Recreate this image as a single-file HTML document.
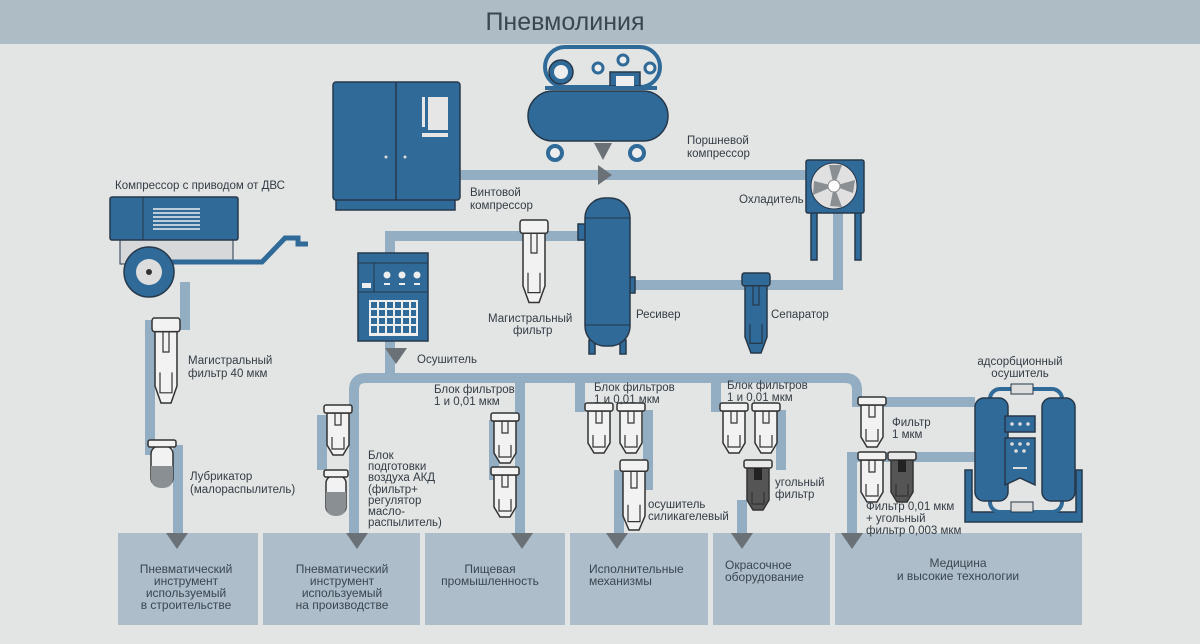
<!DOCTYPE html>
<html><head><meta charset="utf-8"><style>
html,body{margin:0;padding:0;background:#e3e4e4;}
svg{display:block;font-family:"Liberation Sans","Noto Sans CJK SC",sans-serif;}
.t{font-size:11.5px;fill:#333d45;}
.b{font-size:12px;fill:#3a4650;}
.p{fill:none;stroke:#93adc2;stroke-width:10;}
.bl{fill:#2f6a98;stroke:#27384a;stroke-width:1.5;}
</style></head><body>
<svg width="1200" height="644" viewBox="0 0 1200 644" xmlns="http://www.w3.org/2000/svg">
<defs>
<g id="f">
<path d="M-11 8 V40 L-5 50 H5 L11 40 V8 Z" fill="#f2f2f2" stroke="#333" stroke-width="1.5" vector-effect="non-scaling-stroke"/>
<rect x="-14" y="0" width="28" height="8" rx="2" fill="#f2f2f2" stroke="#333" stroke-width="1.5" vector-effect="non-scaling-stroke"/>
<path d="M-3 8 V20 H3 V8" fill="none" stroke="#333" stroke-width="1.2" vector-effect="non-scaling-stroke"/>
<path d="M-6 32 V44 H6 V32" fill="none" stroke="#333" stroke-width="1.2" vector-effect="non-scaling-stroke"/>
</g>
<g id="fd">
<path d="M-11 8 V40 L-5 50 H5 L11 40 V8 Z" fill="#555" stroke="#333" stroke-width="1.5"/>
<rect x="-14" y="0" width="28" height="8" rx="2" fill="#e8e8e8" stroke="#333" stroke-width="1.5"/>
<rect x="-4" y="8" width="8" height="12" fill="#222"/>
<path d="M-6 32 V44 H6 V32" fill="none" stroke="#333" stroke-width="1.2"/>
</g>
<g id="fb">
<path d="M-11 8 V40 L-5 50 H5 L11 40 V8 Z" fill="#2f6a98" stroke="#27384a" stroke-width="1.5" vector-effect="non-scaling-stroke"/>
<rect x="-14" y="0" width="28" height="8" rx="2" fill="#2f6a98" stroke="#27384a" stroke-width="1.5" vector-effect="non-scaling-stroke"/>
<path d="M-3 8 V20 H3 V8" fill="none" stroke="#27384a" stroke-width="1.2" vector-effect="non-scaling-stroke"/>
<path d="M-6 32 V44 H6 V32" fill="none" stroke="#27384a" stroke-width="1.2" vector-effect="non-scaling-stroke"/>
</g>
<path id="ar" d="M-11 0 H11 L0 16 Z" fill="#6a7177"/>
</defs>
<rect width="1200" height="644" fill="#e3e4e4"/>
<rect width="1200" height="44" fill="#aebcc6"/>
<text x="565" y="30" font-size="25" fill="#3a4650" text-anchor="middle">Пневмолиния</text>

<!-- bottom boxes -->
<g fill="#adbdca">
<rect x="118" y="533" width="140" height="92"/><rect x="263" y="533" width="157" height="92"/>
<rect x="425" y="533" width="140" height="92"/><rect x="570" y="533" width="138" height="92"/>
<rect x="713" y="533" width="117" height="92"/><rect x="835" y="533" width="247" height="92"/>
</g>

<!-- pipes -->
<path class="p" d="M185 282 V325 H150 V455"/>
<path class="p" d="M178 445 V535"/>
<path class="p" d="M460 175 H840"/>
<path class="p" d="M838 213 V285 H630"/>
<path class="p" d="M585 236 H390 V260"/>
<path class="p" d="M390 340 V380"/>
<path class="p" d="M354 535 V390 Q354 378 366 378 H845 Q857 378 857 390 V402 H975"/>
<path class="p" d="M975 457 H852 V535"/>
<path class="p" d="M322 415 V470"/>
<path class="p" d="M520 378 V535"/>
<path class="p" d="M494 420 V480"/>
<path class="p" d="M580 378 V412"/>
<path class="p" d="M648 410 V490"/>
<path class="p" d="M619 470 V535"/>
<path class="p" d="M716 378 V412"/>
<path class="p" d="M781 410 V470"/>
<path class="p" d="M742 500 V535"/>

<!-- arrows -->
<use href="#ar" x="177" y="533"/><use href="#ar" x="357" y="533"/><use href="#ar" x="522" y="533"/>
<use href="#ar" x="617" y="533"/><use href="#ar" x="742" y="533"/><use href="#ar" x="852" y="533"/>
<use href="#ar" x="396" y="348"/>

<!-- screw compressor -->
<rect class="bl" x="336" y="198" width="119" height="12"/>
<rect class="bl" x="333" y="82" width="127" height="118" rx="3"/>
<line x1="396" y1="82" x2="396" y2="200" stroke="#27384a" stroke-width="1.5"/>
<rect x="428" y="97" width="20" height="33" fill="#e6e6e6"/>
<rect x="422" y="97" width="3" height="30" fill="#e6e6e6"/>
<rect x="422" y="133" width="26" height="4" fill="#e6e6e6"/>
<circle cx="386" cy="157" r="1.5" fill="#ddd"/><circle cx="405" cy="157" r="1.5" fill="#ddd"/>

<!-- piston compressor -->
<rect x="545" y="47" width="115" height="40" rx="20" fill="none" stroke="#2f6a98" stroke-width="4"/>
<circle cx="561" cy="72" r="12" class="bl"/><circle cx="561" cy="72" r="7" fill="#eee"/>
<path d="M610 86 V72 H640 V86 Z" class="bl"/><rect x="616" y="76" width="18" height="10" fill="#eee"/>
<circle cx="623" cy="60" r="5" fill="#eee" stroke="#2f6a98" stroke-width="3"/>
<circle cx="650" cy="68" r="5" fill="#eee" stroke="#2f6a98" stroke-width="3"/>
<circle cx="598" cy="68" r="5" fill="#eee" stroke="#2f6a98" stroke-width="3"/>
<rect x="545" y="86" width="112" height="4" fill="#2f6a98"/>
<rect class="bl" x="528" y="91" width="140" height="50" rx="25"/>
<circle cx="555" cy="153" r="7" fill="#eee" stroke="#2f6a98" stroke-width="4"/>
<circle cx="637" cy="153" r="7" fill="#eee" stroke="#2f6a98" stroke-width="4"/>
<path d="M594 143 H612 L603 160 Z" fill="#6a7177"/>
<path d="M598 165 L612 175 L598 185 Z" fill="#6a7177"/>

<!-- cooler -->
<rect class="bl" x="811" y="212" width="6" height="48"/><rect class="bl" x="855" y="212" width="6" height="48"/>
<rect class="bl" x="806" y="160" width="58" height="53" rx="2"/>
<circle cx="834" cy="186" r="23" fill="#e0e0e0" stroke="#27384a"/>
<g fill="#8a8f93"><path d="M834 186 L829 165 H842 Z"/><path d="M834 186 L855 180 L853 193 Z"/><path d="M834 186 L842 207 L830 206 Z"/><path d="M834 186 L813 195 L814 181 Z"/></g>
<circle cx="834" cy="186" r="6" fill="#fff" stroke="#888"/>

<!-- receiver -->
<rect class="bl" x="578" y="224" width="8" height="16"/><rect class="bl" x="628" y="277" width="7" height="16"/>
<rect class="bl" x="589" y="340" width="6" height="14"/><rect class="bl" x="620" y="340" width="6" height="14"/>
<rect class="bl" x="585" y="198" width="45" height="148" rx="20"/>
<line x1="585" y1="218" x2="630" y2="218" stroke="#27384a"/>
<line x1="585" y1="325" x2="630" y2="325" stroke="#27384a"/>

<!-- dryer -->
<rect class="bl" x="358" y="253" width="70" height="88"/>
<line x1="358" y1="263" x2="428" y2="263" stroke="#27384a"/>
<line x1="358" y1="292" x2="428" y2="292" stroke="#27384a"/>
<line x1="374" y1="263" x2="374" y2="292" stroke="#27384a"/>
<g fill="#eee"><circle cx="387" cy="275" r="3.5"/><circle cx="402" cy="275" r="3.5"/><circle cx="417" cy="275" r="3.5"/>
<rect x="362" y="283" width="9" height="5"/><rect x="384" y="283" width="6" height="2"/><rect x="399" y="283" width="6" height="2"/><rect x="414" y="283" width="6" height="2"/></g>
<rect x="369" y="300" width="49" height="36" fill="#eee"/>
<g fill="#2f6a98">
<rect x="371" y="302" width="6" height="6"/><rect x="379" y="302" width="6" height="6"/><rect x="387" y="302" width="6" height="6"/><rect x="395" y="302" width="6" height="6"/><rect x="403" y="302" width="6" height="6"/><rect x="411" y="302" width="5" height="6"/>
<rect x="371" y="310" width="6" height="6"/><rect x="379" y="310" width="6" height="6"/><rect x="387" y="310" width="6" height="6"/><rect x="395" y="310" width="6" height="6"/><rect x="403" y="310" width="6" height="6"/><rect x="411" y="310" width="5" height="6"/>
<rect x="371" y="318" width="6" height="6"/><rect x="379" y="318" width="6" height="6"/><rect x="387" y="318" width="6" height="6"/><rect x="395" y="318" width="6" height="6"/><rect x="403" y="318" width="6" height="6"/><rect x="411" y="318" width="5" height="6"/>
<rect x="371" y="326" width="6" height="7"/><rect x="379" y="326" width="6" height="7"/><rect x="387" y="326" width="6" height="7"/><rect x="395" y="326" width="6" height="7"/><rect x="403" y="326" width="6" height="7"/><rect x="411" y="326" width="5" height="7"/>
</g>

<!-- trailer compressor -->
<rect x="120" y="238" width="113" height="26" fill="#d6d8da" stroke="#27384a"/>
<path d="M160 262 H262 L285 238 H298 V244 H308" fill="none" stroke="#2f6a98" stroke-width="5"/>
<rect class="bl" x="110" y="197" width="128" height="43" rx="2"/>
<line x1="143" y1="197" x2="143" y2="240" stroke="#27384a"/>
<g stroke="#eee" stroke-width="1.6"><line x1="153" y1="209" x2="200" y2="209"/><line x1="153" y1="213" x2="200" y2="213"/><line x1="153" y1="217" x2="200" y2="217"/><line x1="153" y1="221" x2="200" y2="221"/><line x1="153" y1="225" x2="200" y2="225"/><line x1="153" y1="229" x2="200" y2="229"/></g>
<circle cx="149" cy="272" r="25" class="bl"/><circle cx="149" cy="272" r="13" fill="#ddd"/><circle cx="149" cy="272" r="3" fill="#333"/>

<!-- adsorption dryer -->
<path d="M965 470 V522 H1082 V470 H1076 V512 H972 V470 Z" class="bl"/>
<rect x="990" y="389" width="72" height="123" rx="10" fill="none" stroke="#2f6a98" stroke-width="4"/>
<rect x="1011" y="384" width="22" height="10" fill="#ddd" stroke="#27384a"/>
<rect x="1011" y="502" width="22" height="10" fill="#ddd" stroke="#27384a"/>
<rect class="bl" x="975" y="398" width="33" height="103" rx="9"/>
<rect class="bl" x="1042" y="398" width="33" height="103" rx="9"/>
<rect class="bl" x="1005" y="416" width="30" height="16"/>
<path class="bl" d="M1005 438 H1035 V485 L1020 478 L1005 485 Z"/>
<g fill="#ddd"><circle cx="1012" cy="424" r="1.8"/><circle cx="1020" cy="424" r="1.8"/><circle cx="1028" cy="424" r="1.8"/>
<circle cx="1012" cy="444" r="1.8"/><circle cx="1020" cy="444" r="1.8"/><circle cx="1028" cy="444" r="1.8"/><circle cx="1016" cy="451" r="1.8"/><circle cx="1024" cy="451" r="1.8"/>
<rect x="1013" y="467" width="14" height="2"/></g>

<!-- filters -->
<use href="#f" transform="translate(166,318) scale(1,1.7)"/>
<g transform="translate(162,440)">
<rect x="-11" y="6" width="22" height="40" rx="8" fill="#f2f2f2" stroke="#333" stroke-width="1.5"/>
<path d="M-11 26 H11 V38 Q11 48 0 48 Q-11 48 -11 38 Z" fill="#8a8f93"/>
<rect x="-14" y="0" width="28" height="7" rx="2" fill="#f2f2f2" stroke="#333" stroke-width="1.5"/>
</g>
<use href="#f" transform="translate(534,220) scale(1,1.65)"/>
<use href="#fb" transform="translate(756,273) scale(1,1.6)"/>
<use href="#f" x="338" y="405"/>
<g transform="translate(336,470)">
<rect x="-10" y="6" width="20" height="38" rx="7" fill="#f2f2f2" stroke="#333" stroke-width="1.5"/>
<path d="M-10 22 H10 V36 Q10 46 0 46 Q-10 46 -10 36 Z" fill="#8a8f93"/>
<rect x="-12" y="0" width="24" height="7" rx="2" fill="#f2f2f2" stroke="#333" stroke-width="1.5"/>
</g>
<use href="#f" x="505" y="413"/><use href="#f" x="505" y="467"/>
<use href="#f" x="599" y="403"/><use href="#f" x="631" y="403"/>
<use href="#f" transform="translate(634,460) scale(1,1.4)"/>
<use href="#f" x="734" y="403"/><use href="#f" x="766" y="403"/>
<use href="#fd" x="758" y="460"/>
<use href="#f" x="872" y="397"/><use href="#f" x="872" y="452"/><use href="#fd" x="902" y="452"/>

<!-- labels -->
<g class="t">
<text x="115" y="189">Компрессор с приводом от ДВС</text>
<text x="470" y="196">Винтовой</text><text x="470" y="209">компрессор</text>
<text x="687" y="144">Поршневой</text><text x="687" y="157">компрессор</text>
<text x="739" y="203">Охладитель</text>
<text x="488" y="322">Магистральный</text><text x="513" y="334">фильтр</text>
<text x="636" y="318">Ресивер</text><text x="771" y="318">Сепаратор</text>
<text x="417" y="363">Осушитель</text>
<text x="188" y="364">Магистральный</text><text x="188" y="377">фильтр 40 мкм</text>
<text x="190" y="480">Лубрикатор</text><text x="190" y="493">(малораспылитель)</text>
<text x="434" y="393">Блок фильтров</text><text x="434" y="405">1 и 0,01 мкм</text>
<text x="594" y="391">Блок фильтров</text><text x="594" y="403">1 и 0,01 мкм</text>
<text x="727" y="389">Блок фильтров</text><text x="727" y="401">1 и 0,01 мкм</text>
<text x="368" y="459">Блок</text><text x="368" y="470">подготовки</text><text x="368" y="481">воздуха АКД</text><text x="368" y="493">(фильтр+</text><text x="368" y="504">регулятор</text><text x="368" y="515">масло-</text><text x="368" y="526">распылитель)</text>
<text x="648" y="508">осушитель</text><text x="648" y="520">силикагелевый</text>
<text x="775" y="486">угольный</text><text x="775" y="498">фильтр</text>
<text x="892" y="426">Фильтр</text><text x="892" y="438">1 мкм</text>
<text x="866" y="510">Фильтр 0,01 мкм</text><text x="866" y="522">+ угольный</text><text x="866" y="534">фильтр 0,003 мкм</text>
<text x="1020" y="365" text-anchor="middle">адсорбционный</text><text x="1020" y="377" text-anchor="middle">осушитель</text>
</g>
<g class="b" text-anchor="middle">
<text x="186" y="573">Пневматический</text><text x="186" y="585">инструмент</text><text x="186" y="597">используемый</text><text x="186" y="609">в строительстве</text>
<text x="342" y="573">Пневматический</text><text x="342" y="585">инструмент</text><text x="342" y="597">используемый</text><text x="342" y="609">на производстве</text>
<text x="490" y="573">Пищевая</text><text x="490" y="585">промышленность</text>
<text x="958" y="567">Медицина</text><text x="958" y="580">и высокие технологии</text>
</g>
<g class="b">
<text x="589" y="573">Исполнительные</text><text x="589" y="585">механизмы</text>
<text x="725" y="569">Окрасочное</text><text x="725" y="581">оборудование</text>
</g>
</svg>
</body></html>
